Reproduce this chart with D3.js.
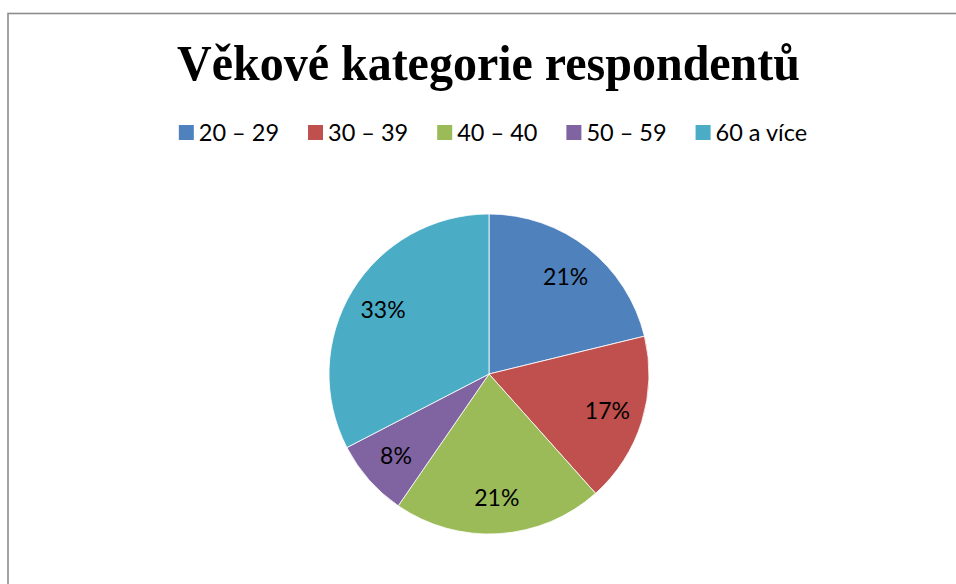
<!DOCTYPE html>
<html>
<head>
<meta charset="utf-8">
<script src="https://cdn.jsdelivr.net/npm/d3@7"></script>
<style>
  html, body { margin: 0; padding: 0; background: #fff; }
  svg { display: block; }
</style>
</head>
<body>
<svg id="chart" width="956" height="584"></svg>
<script>
const title = "Věkové kategorie respondentů";
const categories = ["20 – 29", "30 – 39", "40 – 40", "50 – 59", "60 a více"];
const values = [21.2, 17.2, 21.2, 7.8, 32.6];
const colors = ["#4f81bd", "#c0504d", "#9bbb59", "#8064a2", "#4bacc6"];

const svg = d3.select("#chart");
const font = "Lato, 'Open Sans', sans-serif";

// chart area border (only left & top visible in the crop)
svg.append("rect")
  .attr("x", 8).attr("y", 13.5)
  .attr("width", 1200).attr("height", 1200)
  .attr("fill", "#fff")
  .attr("stroke", "#8c8c8c").attr("stroke-width", 1.6);

// title
svg.append("text")
  .attr("x", 488.5).attr("y", 80)
  .attr("text-anchor", "middle")
  .attr("font-family", "'Liberation Serif', 'Times New Roman', serif")
  .attr("font-weight", "bold")
  .attr("font-size", 50)
  .attr("textLength", 623)
  .attr("lengthAdjust", "spacingAndGlyphs")
  .attr("fill", "#000")
  .text(title);

// legend
const color = d3.scaleOrdinal().domain(categories).range(colors);
const legend = svg.append("g");
const items = legend.selectAll("g").data(categories).join("g");
items.append("rect")
  .attr("width", 15).attr("height", 15)
  .attr("y", 125)
  .attr("fill", d => color(d));
items.append("text")
  .attr("x", 20).attr("y", 141)
  .attr("font-family", font)
  .attr("font-size", 23.5)
  .attr("fill", "#000")
  .text(d => d);
let xpos = 0;
const offsets = [];
items.each(function() {
  const w = d3.select(this).select("text").node().getComputedTextLength();
  offsets.push(xpos);
  xpos += 20 + w + 29;
});
const totalW = xpos - 29;
const startX = 493 - totalW / 2;
items.attr("transform", (d, i) => `translate(${startX + offsets[i]},0)`);

// pie
const cx = 489, cy = 374, R = 160;
const pie = d3.pie().sort(null).value(d => d.v);
const data = categories.map((c, i) => ({ c, v: values[i] }));
const arcs = pie(data);
const arc = d3.arc().innerRadius(0).outerRadius(R);
const labelArc = d3.arc().innerRadius(0).outerRadius(2 * 124);
const total = d3.sum(values);

const g = svg.append("g").attr("transform", `translate(${cx},${cy})`);
g.selectAll("path").data(arcs).join("path")
  .attr("d", arc)
  .attr("fill", d => color(d.data.c))
  .attr("stroke", "#fff")
  .attr("stroke-width", 0.8);

g.selectAll("text.lbl").data(arcs).join("text")
  .attr("class", "lbl")
  .attr("transform", d => `translate(${labelArc.centroid(d)})`)
  .attr("text-anchor", "middle")
  .attr("dy", "0.36em")
  .attr("font-family", font)
  .attr("font-size", 23)
  .attr("fill", "#000")
  .text(d => Math.round(d.data.v / total * 100) + "%");
</script>
</body>
</html>
